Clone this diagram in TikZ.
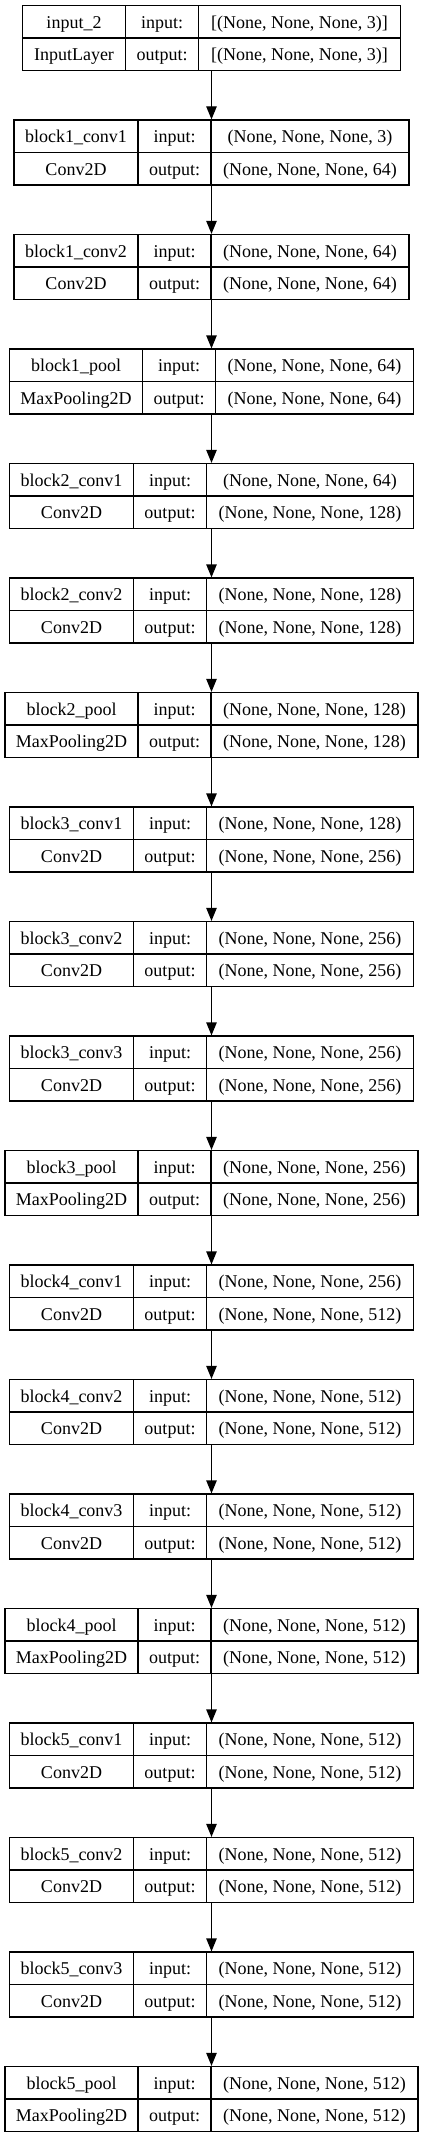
\documentclass[tikz,border=0pt]{standalone}
\usepackage{fontspec}
\setmainfont{Liberation Serif}
\usetikzlibrary{arrows.meta}
\newcommand{\shp}[1]{(None, None, None, #1)}
\tikzset{layer/.style={draw,line width=0.6pt,minimum height=32.5pt,inner sep=0pt},
  cell/.style={inner sep=0pt,anchor=base,font=\fontsize{9}{11}\selectfont},
  flow/.style={line width=0.6pt,-{Triangle[length=6.5pt,width=5.2pt]}}}
\begin{document}
\begin{tikzpicture}[x=0.5pt,y=-0.5pt]
\useasboundingbox (0,0) rectangle (424,2141);
\foreach \i/\nm/\ty/\inp/\outp/\lw/\rw in {
0/input\_2/InputLayer/{[\shp{3}]}/{[\shp{3}]}/103/202,
1/block1\_conv1/Conv2D/\shp{3}/\shp{64}/124/198,
2/block1\_conv2/Conv2D/\shp{64}/\shp{64}/124/198,
3/block1\_pool/MaxPooling2D/\shp{64}/\shp{64}/133/198,
4/block2\_conv1/Conv2D/\shp{64}/\shp{128}/124/207,
5/block2\_conv2/Conv2D/\shp{128}/\shp{128}/124/207,
6/block2\_pool/MaxPooling2D/\shp{128}/\shp{128}/133/207,
7/block3\_conv1/Conv2D/\shp{128}/\shp{256}/124/207,
8/block3\_conv2/Conv2D/\shp{256}/\shp{256}/124/207,
9/block3\_conv3/Conv2D/\shp{256}/\shp{256}/124/207,
10/block3\_pool/MaxPooling2D/\shp{256}/\shp{256}/133/207,
11/block4\_conv1/Conv2D/\shp{256}/\shp{512}/124/207,
12/block4\_conv2/Conv2D/\shp{512}/\shp{512}/124/207,
13/block4\_conv3/Conv2D/\shp{512}/\shp{512}/124/207,
14/block4\_pool/MaxPooling2D/\shp{512}/\shp{512}/133/207,
15/block5\_conv1/Conv2D/\shp{512}/\shp{512}/124/207,
16/block5\_conv2/Conv2D/\shp{512}/\shp{512}/124/207,
17/block5\_conv3/Conv2D/\shp{512}/\shp{512}/124/207,
18/block5\_pool/MaxPooling2D/\shp{512}/\shp{512}/133/207}{
\pgfmathsetmacro\ytop{5.5+114.5*\i}
\pgfmathsetmacro\xl{211.5-(\lw+73+\rw)/2}
\node[layer,minimum width=(\lw+73+\rw)*0.5pt] (b\i) at (211.5,\ytop+32.5) {};
\draw[line width=0.6pt] (b\i.west) -- (b\i.east)
  (\xl+\lw,\ytop) -- (\xl+\lw,\ytop+65) (\xl+\lw+73,\ytop) -- (\xl+\lw+73,\ytop+65);
\node[cell] (b\i-nm) at (\xl+\lw/2,\ytop+22.75) {\nm};
\node[cell] (b\i-ty) at (\xl+\lw/2,\ytop+55.25) {\ty};
\node[cell] (b\i-il) at (\xl+\lw+36.5,\ytop+22.75) {input:};
\node[cell] (b\i-ol) at (\xl+\lw+36.5,\ytop+55.25) {output:};
\node[cell] (b\i-in) at (\xl+\lw+73+\rw/2,\ytop+22.75) {\inp};
\node[cell] (b\i-out) at (\xl+\lw+73+\rw/2,\ytop+55.25) {\outp};
}
\foreach \i [count=\j from 1] in {0,...,17}
  \draw[flow] (b\i.south) -- (b\j.north);
\end{tikzpicture}
\end{document}
